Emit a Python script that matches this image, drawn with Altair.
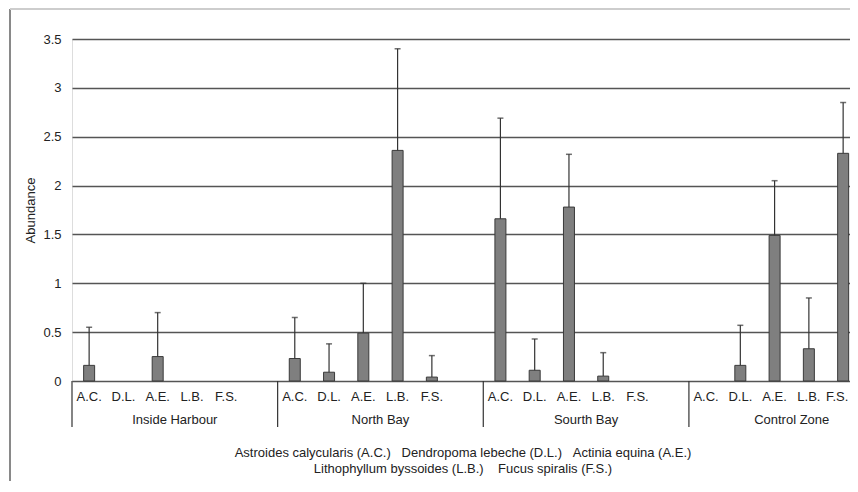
import altair as alt
import pandas as pd

groups = ["Inside Harbour", "North Bay", "Sourth Bay", "Control Zone"]
codes = ["A.C.", "D.L.", "A.E.", "L.B.", "F.S."]
legend_line1 = "Astroides calycularis (A.C.)\u00a0\u00a0\u00a0Dendropoma lebeche (D.L.)\u00a0\u00a0\u00a0Actinia equina (A.E.)"
legend_line2 = "Lithophyllum byssoides (L.B.)\u00a0\u00a0\u00a0\u00a0Fucus spiralis (F.S.)"

# mean abundance per group (order of codes)
mean_ih = [0.16, 0.0, 0.25, 0.0, 0.0]
mean_nb = [0.23, 0.09, 0.49, 2.36, 0.04]
mean_sb = [1.66, 0.11, 1.78, 0.05, 0.0]
mean_cz = [0.0, 0.16, 1.49, 0.33, 2.33]
# standard deviations (upper error bar length)
sd_ih = [0.39, 0.0, 0.45, 0.0, 0.0]
sd_nb = [0.42, 0.29, 0.51, 1.04, 0.22]
sd_sb = [1.03, 0.32, 0.54, 0.24, 0.0]
sd_cz = [0.0, 0.41, 0.56, 0.52, 0.52]

means = [mean_ih, mean_nb, mean_sb, mean_cz]
sds = [sd_ih, sd_nb, sd_sb, sd_cz]
y_ticks = [0, 0.5, 1, 1.5, 2, 2.5, 3, 3.5]

SLOTS = 6
W, H = 778, 342
FONT = "Liberation Sans"
TXT = "#222222"

rows = []
for gi, g in enumerate(groups):
    for ci, c in enumerate(codes):
        m = means[gi][ci]
        s = sds[gi][ci]
        rows.append(dict(group=g, code=c, pos=gi * SLOTS + ci + 0.5, mean=m, upper=m + s))
df = pd.DataFrame(rows)
bars_df = df[df["mean"] > 0]
lab_main = df.iloc[:-1]
lab_last = df.iloc[-1:]

gdf = pd.DataFrame({"group": groups,
                    "center": [gi * SLOTS + 3 for gi in range(len(groups))],
                    "edge": [gi * SLOTS for gi in range(len(groups))]})
ldf1 = pd.DataFrame({"line": [legend_line1]})
ldf2 = pd.DataFrame({"line": [legend_line2]})

xs = alt.Scale(domain=[0, 22.7], nice=False, zero=False, padding=0)
ys = alt.Scale(domain=[0, 3.5], nice=False)

def yaxis():
    return alt.Axis(
        values=y_ticks, format="~g", grid=True, gridColor="#555555", gridWidth=1.3,
        domain=False, ticks=False, labelPadding=11, labelFontSize=13, labelColor=TXT,
        labelFont=FONT, title="Abundance", titleFontSize=13, titleFontWeight="normal",
        titleColor=TXT, titleFont=FONT, titlePadding=5)

bars = alt.Chart(bars_df).mark_bar(
    orient="vertical", size=11, color="#7f7f7f", stroke="#3a3a3a", strokeWidth=1
).encode(
    x=alt.X("pos:Q", scale=xs, axis=None),
    y=alt.Y("mean:Q", scale=ys, axis=yaxis()),
)

err = alt.Chart(bars_df).mark_rule(color="#333333", strokeWidth=1.2).encode(
    x=alt.X("pos:Q", scale=xs, axis=None),
    y=alt.Y("mean:Q", scale=ys, axis=yaxis()),
    y2="upper:Q",
)
caps = alt.Chart(bars_df).mark_tick(orient="horizontal", size=6, thickness=1.5, color="#333333").encode(
    x=alt.X("pos:Q", scale=xs, axis=None),
    y=alt.Y("upper:Q", scale=ys, axis=yaxis()),
)

cat_labels = alt.Chart(lab_main).mark_text(fontSize=13, font=FONT, color=TXT, baseline="middle").encode(
    x=alt.X("pos:Q", scale=xs, axis=None),
    y=alt.value(358),
    text="code:N",
)
cat_last = alt.Chart(lab_last).mark_text(fontSize=13, font=FONT, color=TXT, baseline="middle", dx=-6).encode(
    x=alt.X("pos:Q", scale=xs, axis=None),
    y=alt.value(358),
    text="code:N",
)
grp_labels = alt.Chart(gdf).mark_text(fontSize=13, font=FONT, color=TXT, baseline="middle").encode(
    x=alt.X("center:Q", scale=xs, axis=None),
    y=alt.value(381),
    text="group:N",
)
dividers = alt.Chart(gdf).mark_rule(color="#333333", strokeWidth=1.2).encode(
    x=alt.X("edge:Q", scale=xs, axis=None),
    y=alt.value(342),
    y2=alt.value(388),
)
legend1 = alt.Chart(ldf1).mark_text(fontSize=13, font=FONT, color=TXT, baseline="middle").encode(
    x=alt.value(391), y=alt.value(414), text="line:N")
legend2 = alt.Chart(ldf2).mark_text(fontSize=13, font=FONT, color=TXT, baseline="middle").encode(
    x=alt.value(391), y=alt.value(430), text="line:N")

frame_left = alt.Chart(gdf).mark_rule(color="#888888", strokeWidth=1.5).encode(
    x=alt.value(-62), y=alt.value(-30), y2=alt.value(460))
frame_top = alt.Chart(gdf).mark_rule(color="#cccccc", strokeWidth=1.5).encode(
    x=alt.value(-62), x2=alt.value(800), y=alt.value(-30))

chart = alt.layer(
    bars, err, caps, cat_labels, cat_last, grp_labels, dividers, legend1, legend2, frame_left, frame_top
).resolve_scale(y="shared").properties(
    width=W, height=H, autosize="none",
    padding={"left": 64, "top": 31, "right": 0, "bottom": 100},
).configure_view(strokeWidth=0).configure(font=FONT)

chart.save("out.html", embed_options={"renderer": "svg", "actions": False})
